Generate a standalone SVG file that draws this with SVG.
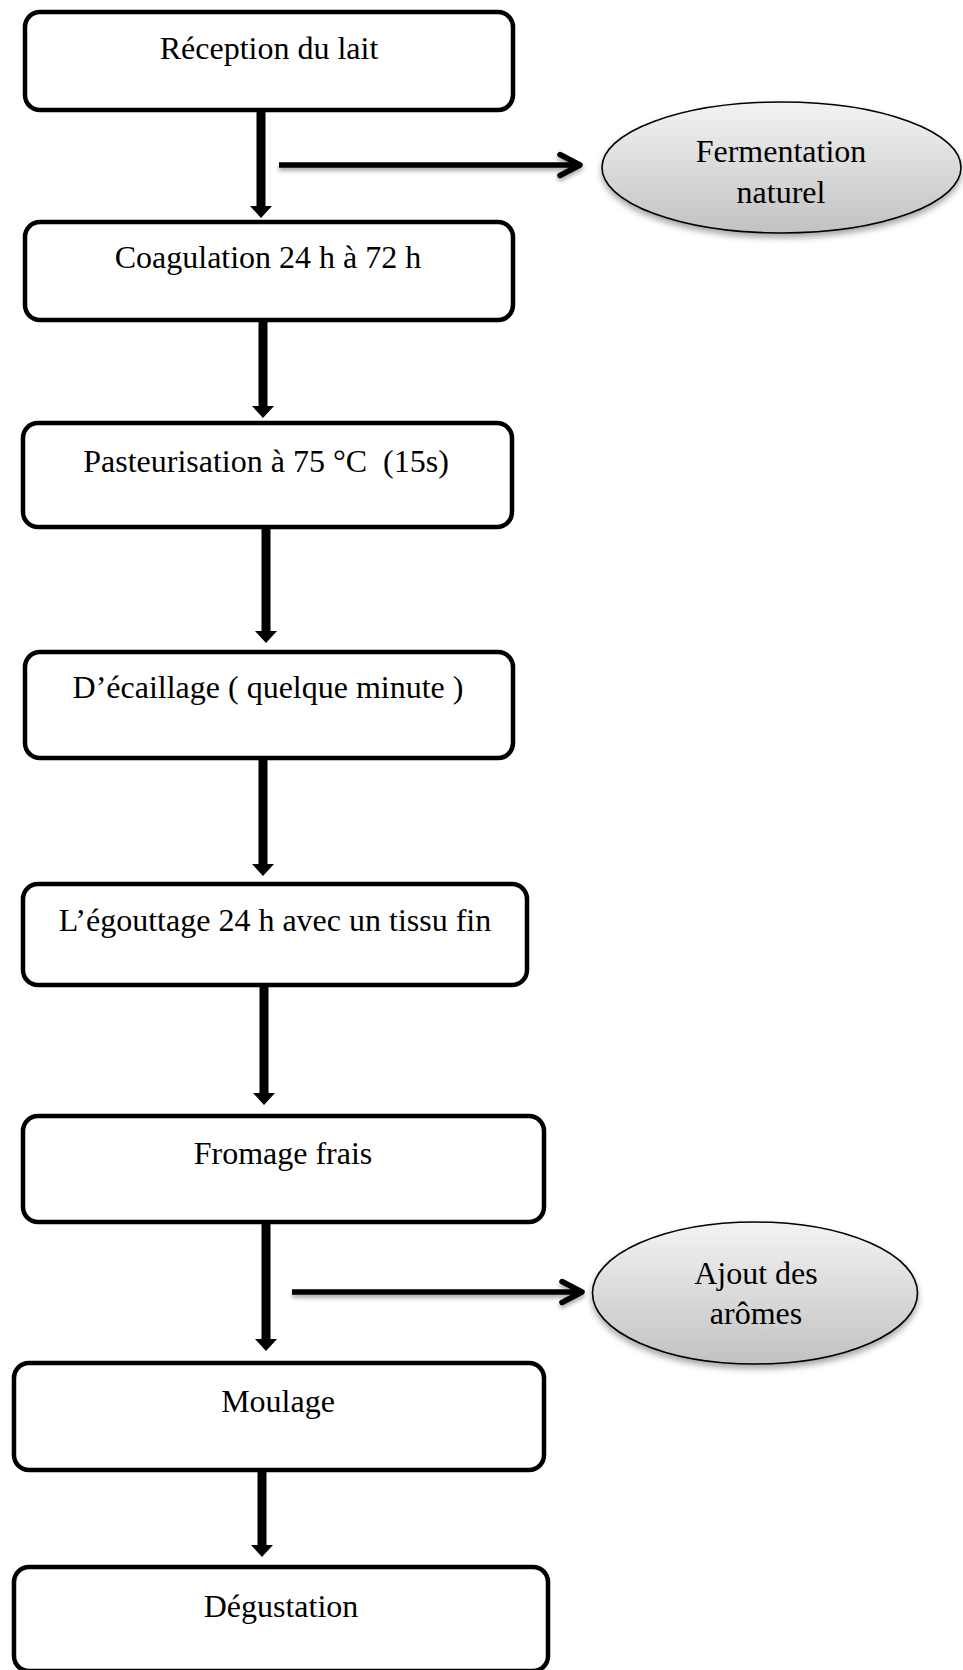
<svg xmlns="http://www.w3.org/2000/svg" width="963" height="1670" viewBox="0 0 963 1670">
<style>
.box{fill:#fff;stroke:#000;stroke-width:4.5}
.lbl{font-family:"Liberation Serif","Times New Roman",serif;font-size:32px;fill:#000;text-anchor:middle}
.vline{stroke:#000;stroke-width:9;fill:none;marker-end:url(#arrowDown)}
.hline{stroke:#000;stroke-width:5.5;fill:none;stroke-linecap:butt;marker-end:url(#chev)}
.ell{fill:url(#gray);stroke:#000;stroke-width:1.6;filter:url(#shadow2)}
</style>
<defs>
<linearGradient id="gray" x1="0" y1="0" x2="0" y2="1">
<stop offset="0" stop-color="#f3f3f3"/>
<stop offset="1" stop-color="#c2c2c2"/>
</linearGradient>
<filter id="shadow" filterUnits="userSpaceOnUse" x="0" y="0" width="963" height="1670">
<feDropShadow dx="0" dy="3" stdDeviation="2" flood-color="#000" flood-opacity="0.35"/>
</filter>
<filter id="shadow2" x="-10%" y="-10%" width="120%" height="130%">
<feDropShadow dx="0" dy="4" stdDeviation="3" flood-color="#000" flood-opacity="0.35"/>
</filter>
<marker id="arrowDown" markerUnits="userSpaceOnUse" viewBox="0 0 12 22" markerWidth="12" markerHeight="22" refX="0" refY="11" orient="auto" overflow="visible">
<path d="M0,0 L12,11 L0,22 Z" fill="#000"/>
</marker>
<marker id="chev" markerUnits="userSpaceOnUse" viewBox="-4 -4 28 29" markerWidth="28" markerHeight="29" refX="20" refY="10.5" orient="auto" overflow="visible">
<path d="M0,0 L20,10.5 L0,21" fill="none" stroke="#000" stroke-width="5.5" stroke-linecap="round" stroke-linejoin="round"/>
</marker>
</defs>

<g id="connectors">
<path class="vline" d="M261,110 V206"/>
<path class="vline" d="M263,320 V406"/>
<path class="vline" d="M266,527 V631"/>
<path class="vline" d="M263,758 V864"/>
<path class="vline" d="M264,985 V1093"/>
<path class="vline" d="M266,1222 V1339"/>
<path class="vline" d="M262,1470 V1545"/>
<g filter="url(#shadow)">
<path class="hline" d="M279,165 H580"/>
<path class="hline" d="M292,1292 H582"/>
</g>
</g>

<g id="n1"><rect class="box" x="25" y="12" width="488" height="98" rx="15"/><text class="lbl" x="269" y="59">Réception du lait</text></g>
<g id="n2"><rect class="box" x="25" y="222" width="488" height="98" rx="15"/><text class="lbl" x="268" y="268">Coagulation 24 h à 72 h</text></g>
<g id="n3"><rect class="box" x="23" y="423" width="489" height="104" rx="15"/><text class="lbl" x="266" y="472" xml:space="preserve">Pasteurisation à 75 °C  (15s)</text></g>
<g id="n4"><rect class="box" x="25" y="652" width="488" height="106" rx="15"/><text class="lbl" x="268" y="698">D’écaillage ( quelque minute )</text></g>
<g id="n5"><rect class="box" x="23" y="884" width="504" height="101" rx="15"/><text class="lbl" x="275" y="931">L’égouttage 24 h avec un tissu fin</text></g>
<g id="n6"><rect class="box" x="23" y="1116" width="521" height="106" rx="15"/><text class="lbl" x="283" y="1164">Fromage frais</text></g>
<g id="n7"><rect class="box" x="14" y="1363" width="530" height="107" rx="15"/><text class="lbl" x="278" y="1412">Moulage</text></g>
<g id="n8"><rect class="box" x="14" y="1567" width="534" height="104" rx="15"/><text class="lbl" x="281" y="1617">Dégustation</text></g>

<g id="e1"><ellipse class="ell" cx="781.5" cy="167.5" rx="179.5" ry="65.5"/><text class="lbl" x="781" y="162">Fermentation</text><text class="lbl" x="781" y="203">naturel</text></g>
<g id="e2"><ellipse class="ell" cx="755" cy="1293" rx="162.5" ry="71"/><text class="lbl" x="756" y="1284">Ajout des</text><text class="lbl" x="756" y="1324">arômes</text></g>
</svg>
